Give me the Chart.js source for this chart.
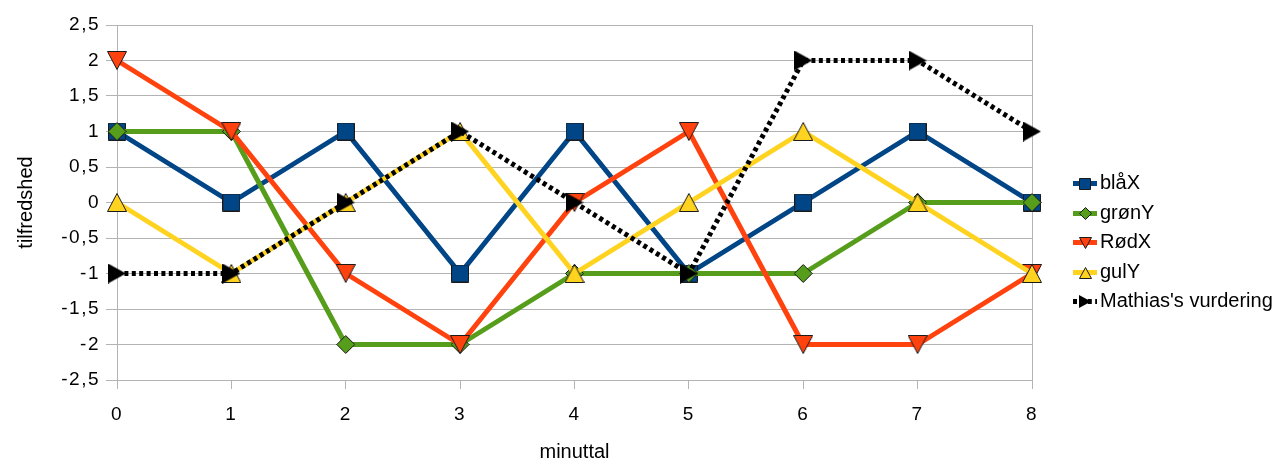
<!DOCTYPE html>
<html><head><meta charset="utf-8">
<script src="https://cdn.jsdelivr.net/npm/chart.js@4/dist/chart.umd.min.js"></script>
<style>html,body{margin:0;padding:0;background:#fff;overflow:hidden}canvas{display:block}</style>
</head><body>
<canvas id="c" width="1278" height="459"></canvas>
<script>
const minutes = ['0','1','2','3','4','5','6','7','8'];
const blaX = [1, 0, 1, -1, 1, -1, 0, 1, 0];
const gronY = [1, 1, -2, -2, -1, -1, -1, 0, 0];
const rodX = [2, 1, -1, -2, 0, 1, -2, -2, -1];
const gulY = [0, -1, 0, 1, -1, 0, 1, 0, -1];
const mathias = [-1, -1, 0, 1, 0, -1, 2, 2, 1];
const seriesNames = ['blåX', 'grønY', 'RødX', 'gulY', "Mathias's vurdering"];
const yTickValues = [-2.5, -2, -1.5, -1, -0.5, 0, 0.5, 1, 1.5, 2, 2.5];
const yTickLabels = ['-2,5', '-2', '-1,5', '-1', '-0,5', '0', '0,5', '1', '1,5', '2', '2,5'];
const xTitle = 'minuttal';
const yTitle = 'tilfredshed';

const FONT = 'Liberation Sans';
const COLORS = ['#004586', '#579d1c', '#ff420e', '#ffd320', '#000000'];
const SHAPES = ['square', 'diamond', 'down', 'up', 'right'];

function marker(shape, w, h, fill, stroke) {
  const c = document.createElement('canvas');
  c.width = w; c.height = h;
  const g = c.getContext('2d');
  const s = 0.5;
  g.beginPath();
  if (shape === 'square') g.rect(s, s, w - 1, h - 1);
  else if (shape === 'diamond') { g.moveTo(w / 2, s); g.lineTo(w - s, h / 2); g.lineTo(w / 2, h - s); g.lineTo(s, h / 2); g.closePath(); }
  else if (shape === 'down') { g.moveTo(s, s); g.lineTo(w - s, s); g.lineTo(w / 2, h - s); g.closePath(); }
  else if (shape === 'up') { g.moveTo(w / 2, s); g.lineTo(w - s, h - s); g.lineTo(s, h - s); g.closePath(); }
  else if (shape === 'right') { g.moveTo(0, 0); g.lineTo(w, h / 2); g.lineTo(0, h); g.closePath(); }
  g.fillStyle = fill; g.fill();
  if (stroke) { g.lineWidth = 1; g.strokeStyle = stroke; g.stroke(); }
  return c;
}
const bigSizes = [[18, 18], [19, 19], [20, 19], [20, 19], [18, 20]];
const smallSizes = [[12, 12], [13, 13], [13, 12], [13, 12], [12, 13]];
const pointImgs = SHAPES.map((s, i) => marker(s, bigSizes[i][0], bigSizes[i][1], COLORS[i], i === 4 ? null : '#1a1a1a'));
const legendImgs = SHAPES.map((s, i) => marker(s, smallSizes[i][0], smallSizes[i][1], COLORS[i], i === 4 ? null : '#1a1a1a'));

const seriesData = [blaX, gronY, rodX, gulY, mathias];
const datasets = seriesData.map((d, i) => ({
  label: seriesNames[i],
  data: d,
  borderColor: COLORS[i],
  backgroundColor: COLORS[i],
  borderWidth: 5,
  borderDash: i === 4 ? [4, 3.4] : [],
  borderCapStyle: 'butt',
  borderJoinStyle: 'round',
  pointStyle: pointImgs[i],
  pointRadius: 9,
  pointHoverRadius: 9,
  tension: 0,
  clip: false,
  order: 5 - i
}));

function spacedLabels(s) {
  if (s._spaced) return;
  s._spaced = true;
  const orig = s.drawLabels.bind(s);
  s.drawLabels = function (area) {
    const ctx = s.ctx;
    ctx.save();
    ctx.letterSpacing = '1.5px';
    orig(area);
    ctx.restore();
  };
}

const legendPlugin = {
  id: 'customLegend',
  afterDraw(chart) {
    const ctx = chart.ctx;
    ctx.save();
    const x0 = 1073, x1 = 1097, tx = 1100, y0 = 183, step = 29.6;
    chart.data.datasets.forEach((ds, i) => {
      const y = Math.round(y0 + i * step) + 0.5;
      ctx.beginPath();
      ctx.strokeStyle = ds.borderColor;
      ctx.lineWidth = 5;
      ctx.lineCap = 'butt';
      ctx.setLineDash(ds.borderDash || []);
      ctx.moveTo(x0, y); ctx.lineTo(x1, y);
      ctx.stroke();
      ctx.setLineDash([]);
      const img = legendImgs[i];
      ctx.drawImage(img, Math.round((x0 + x1) / 2 - img.width / 2), Math.round(y - img.height / 2));
      ctx.fillStyle = '#000';
      ctx.font = '20px "' + FONT + '"';
      ctx.textBaseline = 'middle';
      ctx.textAlign = 'left';
      ctx.fillText(ds.label, tx, y);
    });
    ctx.restore();
  }
};

new Chart(document.getElementById('c'), {
  type: 'line',
  data: { labels: minutes, datasets },
  plugins: [legendPlugin],
  options: {
    responsive: false,
    animation: false,
    events: [],
    layout: { padding: { top: 25, right: 246, bottom: 0, left: 0 } },
    plugins: { legend: { display: false }, tooltip: { enabled: false } },
    scales: {
      x: {
        grid: {
          color: c => (c.index === minutes.length - 1 ? '#b3b3b3' : 'rgba(0,0,0,0)'),
          tickColor: '#b3b3b3',
          tickLength: 9,
          drawOnChartArea: true
        },
        border: { color: '#b3b3b3' },
        ticks: { font: { family: FONT, size: 19 }, color: '#000', padding: 14, maxRotation: 0, autoSkip: false },
        title: { display: true, text: xTitle, color: '#000', font: { family: FONT, size: 20, lineHeight: 0.65 }, padding: 0 },
        afterFit: s => { s.height = 79; spacedLabels(s); }
      },
      y: {
        min: -2.5, max: 2.5,
        afterBuildTicks: s => { s.ticks = yTickValues.map(v => ({ value: v })); },
        ticks: {
          font: { family: FONT, size: 19 }, color: '#000', padding: 6,
          callback: v => yTickLabels[yTickValues.indexOf(v)]
        },
        grid: { color: '#b3b3b3', tickColor: '#b3b3b3', tickLength: 11 },
        border: { color: '#b3b3b3' },
        title: { display: true, text: yTitle, color: '#000', font: { family: FONT, size: 20 }, padding: { top: 14, bottom: 0 } },
        afterFit: s => { s.width = 117; spacedLabels(s); }
      }
    }
  }
});
</script>
</body></html>
